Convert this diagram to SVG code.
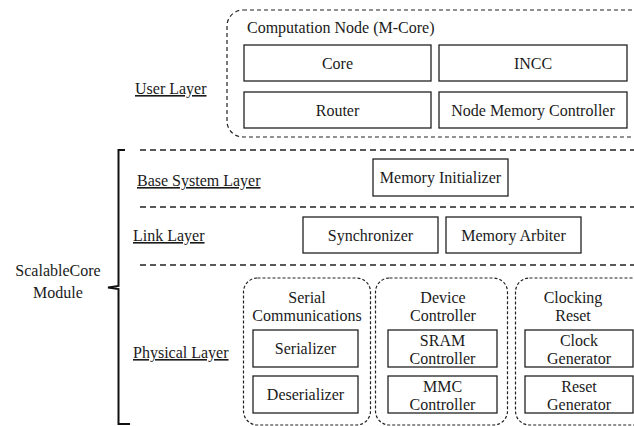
<svg xmlns="http://www.w3.org/2000/svg" width="634" height="426" viewBox="0 0 634 426">
<style>
text{font-size:16px;fill:#1a1a1a}
.c{text-anchor:middle}
.u{text-decoration:underline}
.box{fill:#fff;stroke:#222;stroke-width:1.3}
.grp{fill:none;stroke:#222;stroke-width:1.2;stroke-dasharray:3 2}
.top{fill:none;stroke:#222;stroke-width:1.2;stroke-dasharray:4 3}
.sep{fill:none;stroke:#222;stroke-width:1.5;stroke-dasharray:6 4}
</style>
<rect width="634" height="426" fill="#fff"/>
<g font-family="'Liberation Serif', 'DejaVu Serif', serif">
<g id="labels">
<text x="135" y="94" class="u">User Layer</text>
<text x="137" y="186" class="u">Base System Layer</text>
<text x="133" y="241" class="u">Link Layer</text>
<text x="133" y="358" class="u">Physical Layer</text>
<text x="58" y="276" class="c">ScalableCore</text>
<text x="58" y="298" class="c">Module</text>
</g>
<g id="connectors">
<path d="M125,150 L118.5,150 L118.5,286 L108,287.5 L118.5,289 L118.5,424 L130,424" fill="none" stroke="#111" stroke-width="2"/>
<line x1="140" y1="150" x2="634" y2="150" class="sep"/>
<line x1="140" y1="207" x2="634" y2="207" class="sep"/>
<line x1="140" y1="265" x2="634" y2="265" class="sep"/>
</g>
<g id="computation-node">
<rect x="227" y="10" width="430" height="127" rx="16" class="top"/>
<text x="247" y="33">Computation Node (M-Core)</text>
</g>
<g id="core"><rect x="244" y="45" width="187" height="36" class="box"/><text x="337.5" y="69" class="c">Core</text></g>
<g id="incc"><rect x="439" y="45" width="188" height="36" class="box"/><text x="533" y="69" class="c">INCC</text></g>
<g id="router"><rect x="244" y="92" width="187" height="36" class="box"/><text x="337.5" y="116" class="c">Router</text></g>
<g id="node-memory-controller"><rect x="439" y="92" width="188" height="36" class="box"/><text x="533" y="116" class="c">Node Memory Controller</text></g>
<g id="memory-initializer"><rect x="373" y="159" width="135" height="37" class="box"/><text x="440.5" y="183" class="c">Memory Initializer</text></g>
<g id="synchronizer"><rect x="303" y="217" width="135" height="36" class="box"/><text x="370.5" y="241" class="c">Synchronizer</text></g>
<g id="memory-arbiter"><rect x="446" y="217" width="135" height="36" class="box"/><text x="513.5" y="241" class="c">Memory Arbiter</text></g>
<g id="serial-communications">
<rect x="243.5" y="278" width="127" height="147" rx="14" class="grp"/>
<text x="307" y="303" class="c">Serial</text>
<text x="307" y="321" class="c">Communications</text>
</g>
<g id="serializer"><rect x="253" y="330" width="105" height="37" class="box"/><text x="305.5" y="354" class="c">Serializer</text></g>
<g id="deserializer"><rect x="253" y="376" width="105" height="37" class="box"/><text x="305.5" y="400" class="c">Deserializer</text></g>
<g id="device-controller">
<rect x="375.5" y="278" width="132" height="147" rx="14" class="grp"/>
<text x="443" y="303" class="c">Device</text>
<text x="443" y="321" class="c">Controller</text>
</g>
<g id="sram-controller"><rect x="388" y="330" width="109" height="37" class="box"/><text x="442.5" y="346" class="c">SRAM</text><text x="442.5" y="364" class="c">Controller</text></g>
<g id="mmc-controller"><rect x="388" y="376" width="109" height="37" class="box"/><text x="442.5" y="392" class="c">MMC</text><text x="442.5" y="410" class="c">Controller</text></g>
<g id="clocking-reset">
<rect x="515.5" y="278" width="140" height="147" rx="14" class="grp"/>
<text x="573" y="303" class="c">Clocking</text>
<text x="573" y="321" class="c">Reset</text>
</g>
<g id="clock-generator"><rect x="525" y="330" width="108" height="37" class="box"/><text x="579" y="346" class="c">Clock</text><text x="579" y="364" class="c">Generator</text></g>
<g id="reset-generator"><rect x="525" y="376" width="108" height="37" class="box"/><text x="579" y="392" class="c">Reset</text><text x="579" y="410" class="c">Generator</text></g>
</g>
</svg>
